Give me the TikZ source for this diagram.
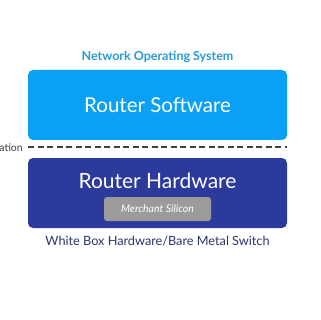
\documentclass[tikz,border=0pt]{standalone}
\usepackage{fontspec}
\setmainfont{Lato}
\usetikzlibrary{positioning}
\definecolor{swblue}{HTML}{0AA0F6}
\definecolor{noslabel}{HTML}{2A9BDD}
\definecolor{hwblue}{HTML}{2C3A9C}
\definecolor{silicon}{HTML}{9B9B9B}
\definecolor{wblabel}{HTML}{2C3472}
\definecolor{dashgray}{HTML}{404040}

\begin{document}
\begin{tikzpicture}[x=1pt, y=-1pt,
  layerbox/.style={rounded corners=5pt, minimum width=259pt, minimum height=70pt, inner sep=0pt},
  chipbox/.style={fill=silicon, rounded corners=3pt, minimum width=107pt, minimum height=24pt, inner sep=0pt}]
  \useasboundingbox[fill=white] (0,0) rectangle (320,320);
  % software layer
  \node[font=\fontsize{12.5}{14}\selectfont\bfseries, text=noslabel] (nos) at (157.5,57) {Network Operating System};
  \node[layerbox, fill=swblue] (sw) at (157.5,105) {};
  \node[font=\fontsize{20.5}{24}\selectfont, text=white] (swtext) at (157.5,105) {Router Software};
  % split line
  \node[font=\fontsize{10.5}{12}\selectfont, text=dashgray, anchor=east, inner sep=0pt] (split) at (23,147.5) {ation};
  \coordinate (splitend) at (287,147.5);
  \draw[dashgray, line width=2pt, dash pattern=on 6pt off 3.5pt] ([xshift=5pt]split.east) -- (splitend);
  % hardware layer
  \node[layerbox, fill=hwblue] (hw) at (157.5,193) {};
  \node[font=\fontsize{21}{24}\selectfont, text=white] (hwtext) at (157.5,181) {Router Hardware};
  \node[chipbox] (chip) at (157.5,209) {};
  \node[font=\fontsize{10.5}{12}\selectfont\itshape, text=white] (chiptext) at (157.5,209) {Merchant Silicon};
  \node[font=\fontsize{12.7}{15}\selectfont, text=wblabel] (wb) at (157.5,241) {White Box Hardware/Bare Metal Switch};
\end{tikzpicture}
\end{document}
